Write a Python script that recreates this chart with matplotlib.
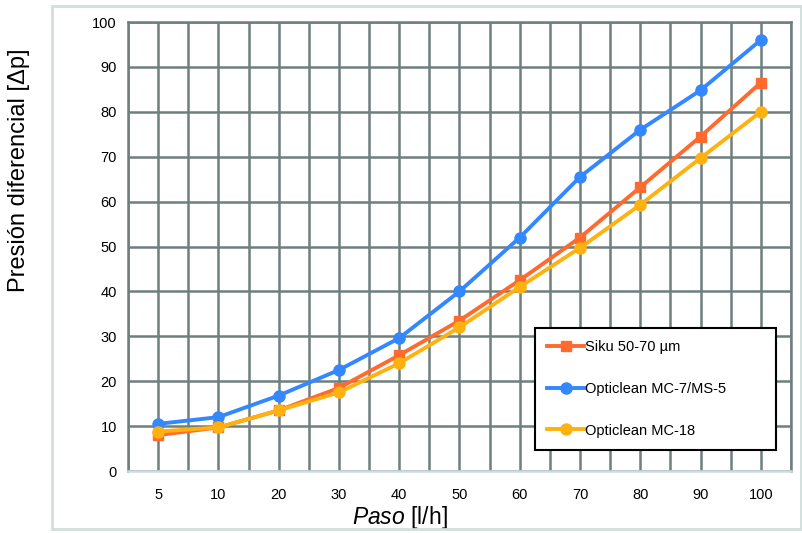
import numpy as np
import matplotlib.pyplot as plt
from matplotlib.patches import Rectangle

plt.rcParams['font.family'] = ['Liberation Sans', 'DejaVu Sans']
plt.rcParams['mathtext.fontset'] = 'custom'
plt.rcParams['mathtext.it'] = 'Liberation Sans:italic'
plt.rcParams['mathtext.rm'] = 'Liberation Sans'

# data
pasos = ["5", "10", "20", "30", "40", "50", "60", "70", "80", "90", "100"]
siku = [8.0, 9.7, 13.5, 18.5, 25.8, 33.5, 42.5, 52.0, 63.2, 74.5, 86.5]
mc7 = [10.5, 12.0, 16.8, 22.5, 29.6, 40.0, 52.0, 65.5, 76.0, 84.8, 96.0]
mc18 = [8.8, 9.7, 13.5, 17.5, 24.0, 32.0, 41.0, 49.7, 59.3, 69.7, 80.0]
labels = ["Siku 50-70 µm", "Opticlean MC-7/MS-5", "Opticlean MC-18"]

grid_col = "#6e7f7e"

fig = plt.figure(figsize=(8.03, 5.33), dpi=100)
ax = fig.add_axes([0.1594, 0.1163, 0.8256, 0.8424])

# light outer frame
fig.patches.append(Rectangle((52 / 803, 4 / 533), 749 / 803, 523 / 533,
                             transform=fig.transFigure, fill=False,
                             edgecolor="#d3dfdc", linewidth=2.0, zorder=0))

x = np.arange(len(pasos))
ax.plot(x, siku, color="#ff6a2e", marker="s", markersize=7, linewidth=2.8,
        label=labels[0], zorder=4)
ax.plot(x, mc7, color="#3388ff", marker="o", markersize=8, linewidth=2.8,
        label=labels[1], zorder=3)
ax.plot(x, mc18, color="#ffb10f", marker="o", markersize=8, linewidth=2.8,
        label=labels[2], zorder=5)

ax.set_xlim(-0.5, len(pasos) - 0.5)
ax.set_ylim(0, 100)
ax.set_xticks(x)
ax.set_xticklabels(pasos)
ax.set_xticks(np.arange(-0.5, len(pasos), 1.0), minor=True)
ax.set_yticks(np.arange(0, 101, 10))
ax.tick_params(which="both", length=0, labelsize=10.5, pad=12)
ax.tick_params(axis="y", pad=8)

ax.grid(True, which="both", axis="x", color=grid_col, linewidth=1.8)
ax.grid(True, which="major", axis="y", color=grid_col, linewidth=1.8)
ax.set_axisbelow(True)
for side in ["top", "right", "left"]:
    ax.spines[side].set_color(grid_col)
    ax.spines[side].set_linewidth(1.8)
ax.spines["bottom"].set_color("#cfdcdc")
ax.spines["bottom"].set_linewidth(1.8)

ax.set_ylabel("Presión diferencial [Δp]", fontsize=17)
ax.yaxis.set_label_coords(-0.148, 0.67)
ax.set_xlabel(r"$\it{Paso}$ [l/h]", fontsize=16.5)
ax.xaxis.set_label_coords(0.41, -0.074)

leg = ax.legend(loc="lower left", bbox_to_anchor=(0.614, 0.047, 0.363, 0.269),
                mode="expand", borderaxespad=0, fontsize=10.5,
                labelspacing=1.9, borderpad=0.85,
                handlelength=2.5, handletextpad=0.1, fancybox=False,
                framealpha=1, edgecolor="black")
leg.get_frame().set_linewidth(1.5)

fig.savefig("out.png", dpi=100)
